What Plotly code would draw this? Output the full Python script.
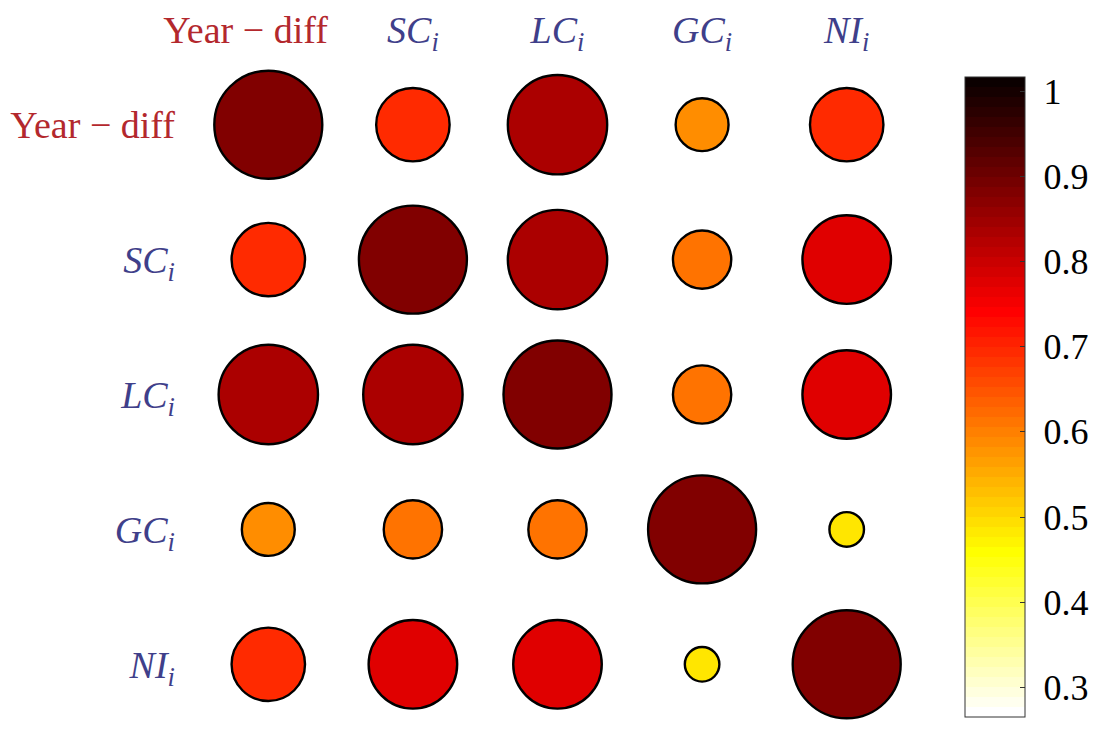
import plotly.graph_objects as go

# ---------------- data ----------------
categories = ["Year-diff", "SC", "LC", "GC", "NI"]
label_text = ["Year \u2212 diff", "<i>SC</i><sub><i>i</i></sub>", "<i>LC</i><sub><i>i</i></sub>",
              "<i>GC</i><sub><i>i</i></sub>", "<i>NI</i><sub><i>i</i></sub>"]
label_colors = ["#b3282d", "#3f3f8a", "#3f3f8a", "#3f3f8a", "#3f3f8a"]

row_year = [1.00, 0.68, 0.92, 0.49, 0.68]
row_sc   = [0.68, 1.00, 0.92, 0.54, 0.82]
row_lc   = [0.92, 0.92, 1.00, 0.54, 0.82]
row_gc   = [0.49, 0.54, 0.54, 1.00, 0.32]
row_ni   = [0.68, 0.82, 0.82, 0.32, 1.00]
matrix = [row_year, row_sc, row_lc, row_gc, row_ni]

cbar_ticks = [0.3, 0.4, 0.5, 0.6, 0.7, 0.8, 0.9, 1.0]
cbar_ticktext = ["0.3", "0.4", "0.5", "0.6", "0.7", "0.8", "0.9", "1"]

# ---------------- colormap (reversed MATLAB "hot") ----------------
def hot(k, n=64):
    n1 = int(3 * n / 8)
    r = min(1.0, k / n1)
    g = min(1.0, max(0.0, (k - n1) / n1))
    b = min(1.0, max(0.0, (k - 2 * n1) / (n - 2 * n1)))
    return "rgb(%d,%d,%d)" % (round(r * 255), round(g * 255), round(b * 255))

N = 64
stepped = []
for i in range(N):
    c = hot(N - i)          # bottom = white, top = near black
    stepped.append([i / N, c])
    stepped.append([(i + 1) / N, c])

smooth = [[0.0, "rgb(255,255,255)"], [0.25, "rgb(255,255,0)"],
          [0.625, "rgb(255,0,0)"], [1.0, "rgb(0,0,0)"]]

# ---------------- points ----------------
xs, ys, vs = [], [], []
for ri, row in enumerate(matrix):
    for ci, v in enumerate(row):
        xs.append(categories[ci])
        ys.append(categories[ri])
        vs.append(v)

# page body has an 8px margin -> shift the figure up/left by 8px
L, R, T, B = 188, 205, 56, 13
W, H = 1116, 730
pw, ph = W - L - R, H - T - B

fig = go.Figure()
fig.add_trace(go.Scatter(
    x=xs, y=ys, mode="markers",
    marker=dict(size=vs, sizemode="diameter", sizeref=1 / 108, opacity=1,
                color=vs, colorscale=smooth, cmin=-0.052, cmax=1.247,
                showscale=False, line=dict(color="black", width=2.4)),
    hoverinfo="skip", showlegend=False))

# colour bar
cbar_labels = ["\u2009\u200a" + t for t in cbar_ticktext]
fig.add_trace(go.Scatter(
    x=[categories[0]], y=[categories[0]], mode="markers",
    marker=dict(size=1, opacity=0, color=[0.5], colorscale=stepped,
                cmin=0.265, cmax=1.017, showscale=True,
                colorbar=dict(x=(957 - L) / pw, xanchor="left",
                              y=(H - B - 389) / ph, yanchor="middle",
                              len=640, lenmode="pixels",
                              thickness=60, thicknessmode="pixels",
                              xpad=0, ypad=0, borderwidth=0,
                              outlinecolor="#333333", outlinewidth=1,
                              ticks="inside", ticklen=5, tickcolor="#333333",
                              tickvals=cbar_ticks, ticktext=cbar_labels,
                              tickfont=dict(family="Liberation Serif", size=36, color="black"))),
    hoverinfo="skip", showlegend=False))

yticktext = ['<span style="color:%s">%s</span>' % (c, t) for c, t in zip(label_colors, label_text)]
xticktext = ['<span style="color:%s">%s%s</span>' % (c, t, "\u2003\u2009" if i == 0 else "")
             for i, (c, t) in enumerate(zip(label_colors, label_text))]

fig.update_xaxes(type="category", categoryorder="array", categoryarray=categories,
                 range=[-0.5, 4.5], side="top", tickvals=categories, ticktext=xticktext,
                 showgrid=False, zeroline=False, showline=False, ticks="",
                 ticklabelstandoff=12, automargin=False,
                 tickfont=dict(family="Liberation Serif", size=38))
fig.update_yaxes(type="category", categoryorder="array", categoryarray=categories,
                 range=[4.45, -0.45], tickvals=categories, ticktext=yticktext,
                 showgrid=False, zeroline=False, showline=False, ticks="",
                 ticklabelstandoff=20, automargin=False,
                 tickfont=dict(family="Liberation Serif", size=38))

fig.update_layout(width=W, height=H, autosize=False,
                  margin=dict(l=L, r=R, t=T, b=B, autoexpand=False),
                  paper_bgcolor="white", plot_bgcolor="white")

fig.write_html("out.html")
